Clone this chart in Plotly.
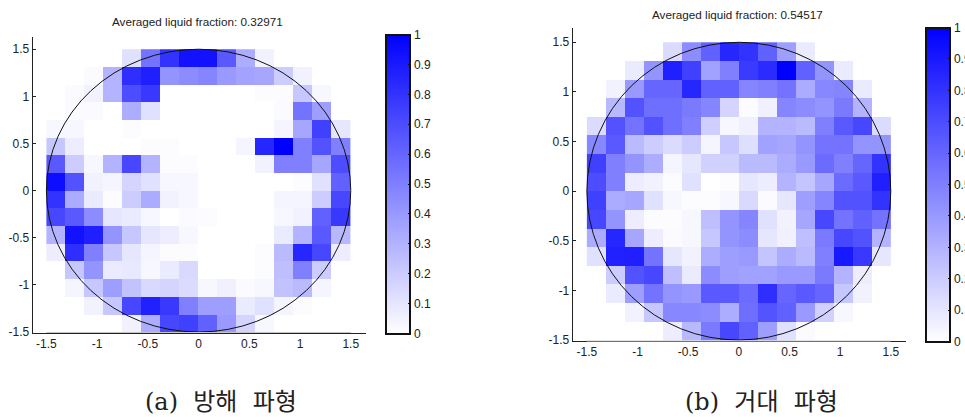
import numpy as np
import plotly.graph_objects as go

W, H = 965, 417

# liquid fraction, rows from top (y=+1.5) to bottom (y=-1.5), 16 x 16 cells
frac_a = [
 [0,0,0,0,.12,.55,.80,.93,.93,.65,.32,.05,0,0,0,0],
 [0,0,.02,.30,.82,.88,.42,.45,.48,.40,.36,.35,.20,.05,0,0],
 [0,.02,.05,.30,.70,.78,0,0,0,0,0,.01,.01,.22,.03,0],
 [0,.02,.02,0,.32,.12,0,0,0,0,0,0,.02,.55,.38,0],
 [.03,.03,0,0,.01,0,0,0,0,0,0,0,.04,.35,.75,.10],
 [.22,.07,0,0,0,.01,.01,0,0,0,.04,.85,1.0,.50,.68,.50],
 [.65,.20,.03,.30,.72,.30,.01,.01,0,0,0,.05,.50,.50,.35,.70],
 [.95,.68,.05,.04,.17,.12,.03,.03,0,0,0,0,0,.01,.12,.62],
 [.80,.33,.08,.01,.20,.33,.05,.03,0,0,0,0,.04,.04,.20,.72],
 [.72,.65,.45,.10,.08,.03,0,.02,.01,0,0,0,.03,.05,.62,.78],
 [.30,.93,.88,.42,.22,.10,.07,.03,0,0,0,0,.08,.30,.65,.28],
 [.07,.82,.50,.22,.10,.04,.01,.01,0,0,0,.01,.27,.85,.72,.07],
 [0,.22,.42,.08,.09,.03,.08,.15,0,0,0,.01,.25,.50,.20,0],
 [0,.04,.22,.38,.24,.15,.17,.14,.03,.06,.02,.03,.24,.27,.04,0],
 [0,0,.05,.22,.72,.87,.78,.50,.38,.38,.08,.12,.04,.01,0,0],
 [0,0,0,0,.05,.32,.72,.75,.62,.40,.17,.03,0,0,0,0],
]
frac_b = [
 [0,0,0,0,.14,.45,.62,.85,.80,.62,.38,.08,0,0,0,0],
 [0,0,.08,.42,.88,.75,.37,.50,.77,.83,1.0,.62,.42,.08,0,0],
 [0,.05,.40,.60,.60,.85,.62,.62,.48,.50,.55,.33,.47,.48,.08,0],
 [0,.28,.68,.57,.57,.52,.48,.17,.01,.06,.48,.45,.42,.52,.30,0],
 [.14,.68,.55,.68,.57,.50,.19,.03,.06,.30,.30,.27,.50,.65,.72,.14],
 [.47,.65,.27,.20,.14,.20,.04,.22,.13,.37,.35,.42,.55,.55,.42,.42],
 [.75,.50,.42,.32,.04,.10,.18,.18,.27,.27,.33,.40,.58,.50,.60,.80],
 [.70,.50,.07,.05,.01,.12,0,.01,.10,.07,.30,.23,.35,.58,.65,.88],
 [.75,.33,.35,.12,.03,.01,.01,.03,.15,.02,.10,.38,.48,.68,.68,.80],
 [.72,.42,.07,.01,.01,.03,.25,.42,.48,.12,.05,.35,.72,.55,.62,.55],
 [.33,.85,.35,.07,.02,.03,.22,.42,.45,.10,.06,.25,.52,.72,.68,.30],
 [.12,.87,.88,.55,.10,.05,.32,.38,.40,.23,.33,.27,.50,.90,.78,.10],
 [0,.20,.68,.72,.25,.08,.45,.38,.37,.37,.40,.40,.52,.30,.07,0],
 [0,.08,.38,.55,.42,.40,.65,.65,.58,.82,.60,.65,.60,.22,.05,0],
 [0,0,.05,.22,.47,.47,.45,.32,.57,.67,.62,.40,.18,.03,0,0],
 [0,0,0,0,.07,.28,.52,.72,.62,.38,.12,.02,0,0,0,0],
]

title_a = "Averaged liquid fraction: 0.32971"
title_b = "Averaged liquid fraction: 0.54517"
caption_a = "(a)\u00a0\u00a0방해\u00a0\u00a0파형"
caption_b = "(b)\u00a0\u00a0거대\u00a0\u00a0파형"
axis_ticks = [-1.5, -1, -0.5, 0, 0.5, 1, 1.5]
axis_labels = ["-1.5", "-1", "-0.5", "0", "0.5", "1", "1.5"]
cbar_ticks = [0, .1, .2, .3, .4, .5, .6, .7, .8, .9, 1]
cbar_labels = ["0", "0.1", "0.2", "0.3", "0.4", "0.5", "0.6", "0.7", "0.8", "0.9", "1"]

edges = np.linspace(-1.5, 1.5, 17)
centers = (edges[:-1] + edges[1:]) / 2
x_cells = centers.tolist()
y_cells = centers[::-1].tolist()
scale = [[0, "rgb(255,255,255)"], [1, "rgb(0,0,255)"]]
FONT = "Liberation Sans, Arial, sans-serif"


def px(v):
    return v / W


def py(v):
    return 1 - v / H


fig = go.Figure()

panels = [
    dict(z=frac_a, xa="x", ya="y", xdom=(32.7, 366), ydom=(36.5, 332.5),
         xr=(-1.635, 1.65), yr=(-1.505, 1.635),
         cb=(385.5, 333.5, 34.5), title=title_a, tx=197, ty=21, cap=caption_a, cx=221),
    dict(z=frac_b, xa="x2", ya="y2", xdom=(572.7, 906), ydom=(28, 341),
         xr=(-1.64, 1.65), yr=(-1.51, 1.644),
         cb=(925.7, 341.5, 28), title=title_b, tx=737, ty=14, cap=caption_b, cx=761),
]

layout_axes = {}
shapes = []
annotations = []
for i, p in enumerate(panels):
    fig.add_trace(go.Heatmap(
        z=p["z"], x=x_cells, y=y_cells, xaxis=p["xa"], yaxis=p["ya"],
        colorscale=scale, zmin=0, zmax=1, zsmooth=False, hoverinfo="skip",
        colorbar=dict(
            x=px(p["cb"][0]), xanchor="left", xpad=0, ypad=0,
            y=py(p["cb"][1]), yanchor="bottom",
            len=(p["cb"][1] - p["cb"][2]) / H, lenmode="fraction",
            thickness=24, thicknessmode="pixels",
            outlinecolor="#111111", outlinewidth=2,
            tickmode="array", tickvals=cbar_ticks, ticktext=cbar_labels,
            ticks="inside", ticklen=3, tickwidth=1, tickcolor="#111111",
            tickfont=dict(family=FONT, size=12, color="#222222"),
        ),
    ))
    suffix = "" if i == 0 else "2"
    ax_common = dict(
        showgrid=False, zeroline=False, showline=True, linecolor="#222222", linewidth=1,
        ticklen=3, tickwidth=1, tickcolor="#222222",
        tickmode="array", tickvals=axis_ticks, ticktext=axis_labels,
        tickfont=dict(family=FONT, size=12, color="#222222"),
    )
    layout_axes["xaxis" + suffix] = dict(
        ax_common, domain=[px(p["xdom"][0]), px(p["xdom"][1])], range=list(p["xr"]),
        anchor=p["ya"], ticks="",
    )
    layout_axes["yaxis" + suffix] = dict(
        ax_common, domain=[py(p["ydom"][1]), py(p["ydom"][0])], range=list(p["yr"]),
        anchor=p["xa"], ticks="inside",
    )
    shapes.append(dict(type="circle", xref=p["xa"], yref=p["ya"],
                       x0=-1.5, x1=1.5, y0=-1.5, y1=1.5,
                       line=dict(color="#111111", width=1), fillcolor="rgba(0,0,0,0)"))
    shapes.append(dict(type="line", xref=p["xa"], yref=p["ya"] + " domain",
                       x0=-1.5, x1=1.5, y0=0, y1=0,
                       line=dict(color="#c4c4c4", width=1)))
    annotations.append(dict(text=p["title"], xref="paper", yref="paper",
                            x=px(p["tx"]), y=py(p["ty"]), xanchor="center", yanchor="middle",
                            showarrow=False, font=dict(family=FONT, size=11.7, color="#222222")))
    annotations.append(dict(text=p["cap"], xref="paper", yref="paper",
                            x=px(p["cx"]), y=py(402), xanchor="center", yanchor="middle",
                            showarrow=False,
                            font=dict(family="DejaVu Serif, Noto Sans CJK KR, sans-serif",
                                      size=24, color="#222222")))

fig.update_layout(
    width=W, height=H, margin=dict(l=0, r=0, t=0, b=0, autoexpand=False),
    paper_bgcolor="white", plot_bgcolor="white", showlegend=False,
    shapes=shapes, annotations=annotations, **layout_axes,
)
fig.write_html("out.html", config={"displayModeBar": False},
               post_script="document.body.style.margin='0';document.documentElement.style.overflow='hidden';")
